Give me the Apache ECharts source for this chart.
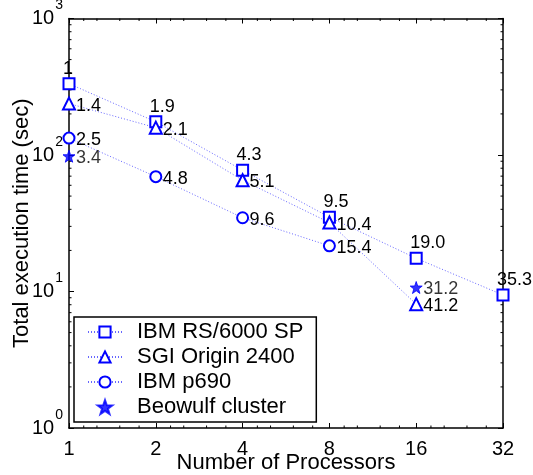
<!DOCTYPE html>
<html><head><meta charset="utf-8">
<script src="https://cdn.jsdelivr.net/npm/echarts@6/dist/echarts.min.js"></script>
<style>html,body{margin:0;padding:0;background:#fff}#c{width:533px;height:475px}</style>
</head><body><div id="c"></div>
<script>
const procs = [1, 2, 4, 8, 16, 32];
const rsTime = [333, 175, 77.4, 35.0, 17.5, 9.43];
const rsLabels = ['1', '1.9', '4.3', '9.5', '19.0', '35.3'];
const sgiProcs = [1, 2, 4, 8, 16];
const sgiTime = [238, 158.6, 65.3, 32.0, 8.08];
const sgiLabels = ['1.4', '2.1', '5.1', '10.4', '41.2'];
const p690Procs = [1, 2, 4, 8];
const p690Time = [133, 69.4, 34.7, 21.6];
const p690Labels = ['2.5', '4.8', '9.6', '15.4'];
const bwProcs = [1, 16];
const bwTime = [98, 10.7];
const bwLabels = ['3.4', '31.2'];
const seriesNames = ['IBM RS/6000 SP', 'SGI Origin 2400', 'IBM p690', 'Beowulf cluster'];
const xMinorTicks = [1.125, 1.25, 1.5, 1.75, 2.25, 2.5, 3, 3.5, 4.5, 5, 6, 7, 9, 10, 12, 14, 18, 20, 24, 28];
const yMinorTicks = [2, 3, 4, 5, 6, 7, 8, 9, 20, 30, 40, 50, 60, 70, 80, 90, 200, 300, 400, 500, 600, 700, 800, 900];

const FONT = 'Liberation Sans, Arial, sans-serif';
const BLUE = '#0000ff';
const STAR = 'path://M0,-10 L2.35,-3.24 L9.51,-3.09 L3.8,1.24 L5.88,8.09 L0,4 L-5.88,8.09 L-3.8,1.24 L-9.51,-3.09 L-2.35,-3.24 Z';

function pairs(xs, ys) { return xs.map((x, i) => [x, ys[i]]); }

const tickData = [];
xMinorTicks.forEach(v => { tickData.push([v, 1, 0]); tickData.push([v, 1000, 1]); });
yMinorTicks.forEach(v => { tickData.push([1, v, 2]); tickData.push([32, v, 3]); });

const lineStyle = { color: BLUE, width: 1, type: [1, 2], opacity: 0.6 };
const rightLabel = arr => ({
  show: true, formatter: p => arr[p.dataIndex], position: 'inside', align: 'left', verticalAlign: 'middle',
  offset: [7, 2], fontSize: 18, color: '#000', fontFamily: FONT
});

const axisCommonX = {
  type: 'log', logBase: 2, min: 1, max: 32,
  axisLine: { show: true, lineStyle: { color: '#000', width: 1.5 } },
  axisTick: { show: true, inside: true, length: 5, lineStyle: { color: '#000', width: 1 } },
  splitLine: { show: false }
};
const axisCommonY = {
  type: 'log', logBase: 10, min: 1, max: 1000,
  axisLine: { show: true, lineStyle: { color: '#000', width: 1.5 } },
  axisTick: { show: true, inside: true, length: 5, lineStyle: { color: '#000', width: 1 } },
  splitLine: { show: false }
};

const chart = echarts.init(document.getElementById('c'), null, { renderer: 'canvas' });
chart.setOption({
  animation: false,
  backgroundColor: '#fff',
  grid: { left: 69, right: 30, top: 18.5, bottom: 47, containLabel: false, outerBoundsMode: 'none' },
  xAxis: [
    Object.assign({}, axisCommonX, {
      position: 'bottom',
      name: 'Number of Processors', nameLocation: 'middle', nameGap: 24, nameMoveOverlap: false,
      nameTextStyle: { fontSize: 22, color: '#000', fontFamily: FONT },
      axisLabel: { fontSize: 20, color: '#000', fontFamily: FONT, margin: 11 }
    }),
    Object.assign({}, axisCommonX, { position: 'top', axisLabel: { show: false } })
  ],
  yAxis: [
    Object.assign({}, axisCommonY, {
      position: 'left',
      name: 'Total execution time (sec)', nameLocation: 'middle', nameGap: 36, nameMoveOverlap: false,
      nameTextStyle: { fontSize: 22, color: '#000', fontFamily: FONT },
      axisLabel: {
        margin: 6, color: '#000', fontFamily: FONT,
        formatter: v => '{b|10}{s|' + Math.round(Math.log10(v)) + '}',
        rich: {
          b: { fontSize: 20, fontFamily: FONT, color: '#000', verticalAlign: 'middle', lineHeight: 20 },
          s: { fontSize: 14, fontFamily: FONT, color: '#000', verticalAlign: 'middle', lineHeight: 14, padding: [0, 0, 26, 1] }
        }
      }
    }),
    Object.assign({}, axisCommonY, { position: 'right', axisLabel: { show: false } })
  ],
  legend: {
    data: seriesNames, orient: 'vertical', left: 74, top: 317,
    padding: [4, 13, 4, 13], itemGap: 3, itemWidth: 34, itemHeight: 14,
    borderColor: '#000', borderWidth: 1.5, backgroundColor: '#fff',
    textStyle: { fontSize: 22, color: '#000', fontFamily: FONT, padding: [0, 0, 0, 10], lineHeight: 22 }
  },
  series: [
    {
      type: 'custom', name: 'minorTicks', xAxisIndex: 0, yAxisIndex: 0, silent: true,
      data: tickData, encode: { x: 0, y: 1 },
      renderItem: (params, api) => {
        const p = api.coord([api.value(0), api.value(1)]);
        const s = api.value(2); const L = 2.5;
        let x2 = p[0], y2 = p[1];
        if (s === 0) y2 = p[1] - L; else if (s === 1) y2 = p[1] + L;
        else if (s === 2) x2 = p[0] + L; else x2 = p[0] - L;
        return { type: 'line', shape: { x1: p[0], y1: p[1], x2: x2, y2: y2 }, style: { stroke: '#000', lineWidth: 1 } };
      }
    },
    {
      type: 'line', name: seriesNames[0], data: pairs(procs, rsTime),
      symbol: 'emptyRect', symbolSize: 11, itemStyle: { color: BLUE, borderColor: BLUE, borderWidth: 1.5 },
      lineStyle: lineStyle, emphasis: { disabled: true }, z: 3,
      label: {
        show: true, formatter: p => rsLabels[p.dataIndex], position: 'inside', align: 'left', verticalAlign: 'middle',
        offset: [-6, -15], fontSize: 18, color: '#000', fontFamily: FONT
      }
    },
    {
      type: 'line', name: seriesNames[1], data: pairs(sgiProcs, sgiTime),
      symbol: 'emptyTriangle', symbolSize: 12, itemStyle: { color: BLUE, borderColor: BLUE, borderWidth: 1.5 },
      lineStyle: lineStyle, emphasis: { disabled: true }, z: 3,
      label: rightLabel(sgiLabels)
    },
    {
      type: 'line', name: seriesNames[2], data: pairs(p690Procs, p690Time),
      symbol: 'emptyCircle', symbolSize: 11, itemStyle: { color: BLUE, borderColor: BLUE, borderWidth: 1.5 },
      lineStyle: lineStyle, emphasis: { disabled: true }, z: 3,
      label: rightLabel(p690Labels)
    },
    {
      type: 'scatter', name: seriesNames[3], data: pairs(bwProcs, bwTime),
      symbol: STAR, symbolSize: 12, itemStyle: { color: BLUE, borderColor: BLUE, borderWidth: 1 },
      emphasis: { disabled: true }, z: 4,
      label: rightLabel(bwLabels)
    }
  ]
});
</script>
</body></html>
